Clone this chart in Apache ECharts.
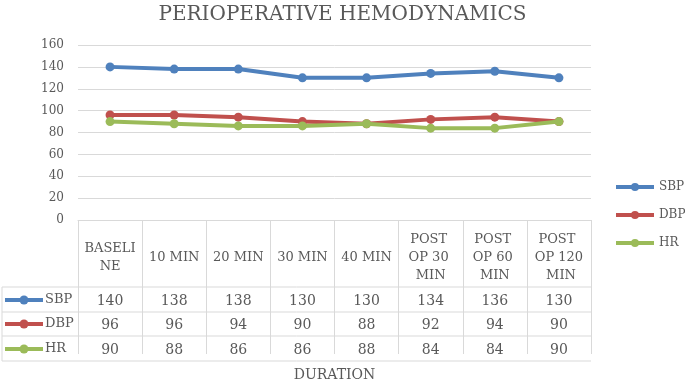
<!DOCTYPE html>
<html>
<head>
<meta charset="utf-8">
<script src="https://cdn.jsdelivr.net/npm/echarts@6/dist/echarts.min.js"></script>
<style>
html,body{margin:0;padding:0;background:#fff;}
#main{width:685px;height:383px;}
</style>
</head>
<body>
<div id="main"></div>
<script>
// data
var categories=['BASELINE','10 MIN','20 MIN','30 MIN','40 MIN','POST OP 30 MIN','POST OP 60 MIN','POST OP 120 MIN'];
var sbp=[140,138,138,130,130,134,136,130];
var dbp=[96,96,94,90,88,92,94,90];
var hr=[90,88,86,86,88,84,84,90];
var seriesNames=['SBP','DBP','HR'];
var colors=['#4F81BD','#C0504D','#9BBB59'];

var font='DejaVu Serif';
var txt='#595959';
var lineCol='#d9d9d9';

// layout of the data table under the plot
var gridLeft=78, gridRight=591, axisY=227;
var rowLines=[287,312,336,361];   // horizontal borders below header
var rowCenter=[300,324,349];
var labelFix=8;   // axis labels sit a bit high with verticalAlign middle

var chart=echarts.init(document.getElementById('main'));

var seriesData=[sbp,dbp,hr];
var series=[];
var valueAxes=[];
for(var i=0;i<seriesData.length;i++){
	series.push({
		name:seriesNames[i],
		type:'line',
		data:seriesData[i],
		symbol:'circle',
		symbolSize:9,
		lineStyle:{width:4,color:colors[i]},
		itemStyle:{color:colors[i]},
		z:3+i
	});
	//each table row is an extra category axis showing that series' values
	valueAxes.push({
		type:'category',
		data:seriesData[i].map(String),
		position:'bottom',
		axisLine:{show:false},
		axisTick:{show:false},
		axisLabel:{
			interval:0,
			margin:rowCenter[i]-axisY+labelFix,
			verticalAlign:'middle',
			color:txt,
			fontFamily:font,
			fontSize:14
		}
	});
}

var graphic=[];
//horizontal borders of the table (left key column included)
for(var r=0;r<rowLines.length;r++){
	graphic.push({type:'line',shape:{x1:2,y1:rowLines[r],x2:gridRight,y2:rowLines[r]},style:{stroke:lineCol,lineWidth:1},silent:true});
}
graphic.push({type:'line',shape:{x1:2,y1:rowLines[0],x2:2,y2:rowLines[3]},style:{stroke:lineCol,lineWidth:1},silent:true});
//legend keys in the table rows
for(var k=0;k<seriesNames.length;k++){
	graphic.push({type:'line',shape:{x1:5,y1:rowCenter[k],x2:43,y2:rowCenter[k]},style:{stroke:colors[k],lineWidth:4},silent:true});
	graphic.push({type:'circle',shape:{cx:24,cy:rowCenter[k],r:4.5},style:{fill:colors[k]},silent:true});
	graphic.push({type:'text',x:45,y:rowCenter[k],style:{text:seriesNames[k],fill:txt,font:'13px "DejaVu Serif"',verticalAlign:'middle'},silent:true});
}

var option={
	backgroundColor:'#ffffff',
	animation:false,
	title:{
		text:'PERIOPERATIVE HEMODYNAMICS',
		left:'center',
		top:0,
		textStyle:{fontFamily:font,fontWeight:'normal',fontSize:20,color:txt}
	},
	legend:{
		orient:'vertical',
		left:614,
		top:181,
		padding:0,
		itemWidth:38,
		itemHeight:10,
		itemGap:16,
		data:seriesNames,
		lineStyle:{width:4},
		textStyle:{fontFamily:font,fontSize:12,color:txt}
	},
	grid:{left:gridLeft,right:685-gridRight,top:45,bottom:383-axisY,containLabel:false},
	xAxis:[{
		type:'category',
		data:categories,
		name:'DURATION',
		nameLocation:'middle',
		nameGap:148,
		nameTextStyle:{fontFamily:font,fontSize:14,color:txt},
		axisLine:{lineStyle:{color:lineCol}},
		axisTick:{show:true,interval:0,length:rowLines[3]-axisY,lineStyle:{color:lineCol}},
		axisLabel:{
			interval:0,
			margin:30+labelFix,
			width:52,
			overflow:'break',
			lineHeight:18,
			align:'center',
			verticalAlign:'middle',
			color:txt,
			fontFamily:font,
			fontSize:13,
			//long single words are cut after 6 letters, as in the table header
			formatter:function(v){return v.replace(/(\S{6})(?=\S)/g,'$1\n');}
		}
	}].concat(valueAxes),
	yAxis:{
		type:'value',
		min:0,
		max:160,
		interval:20,
		axisLine:{show:false},
		axisTick:{show:false},
		splitLine:{lineStyle:{color:lineCol}},
		axisLabel:{margin:14,color:txt,fontFamily:font,fontSize:12}
	},
	graphic:graphic,
	series:series
};
chart.setOption(option);
</script>
</body>
</html>
